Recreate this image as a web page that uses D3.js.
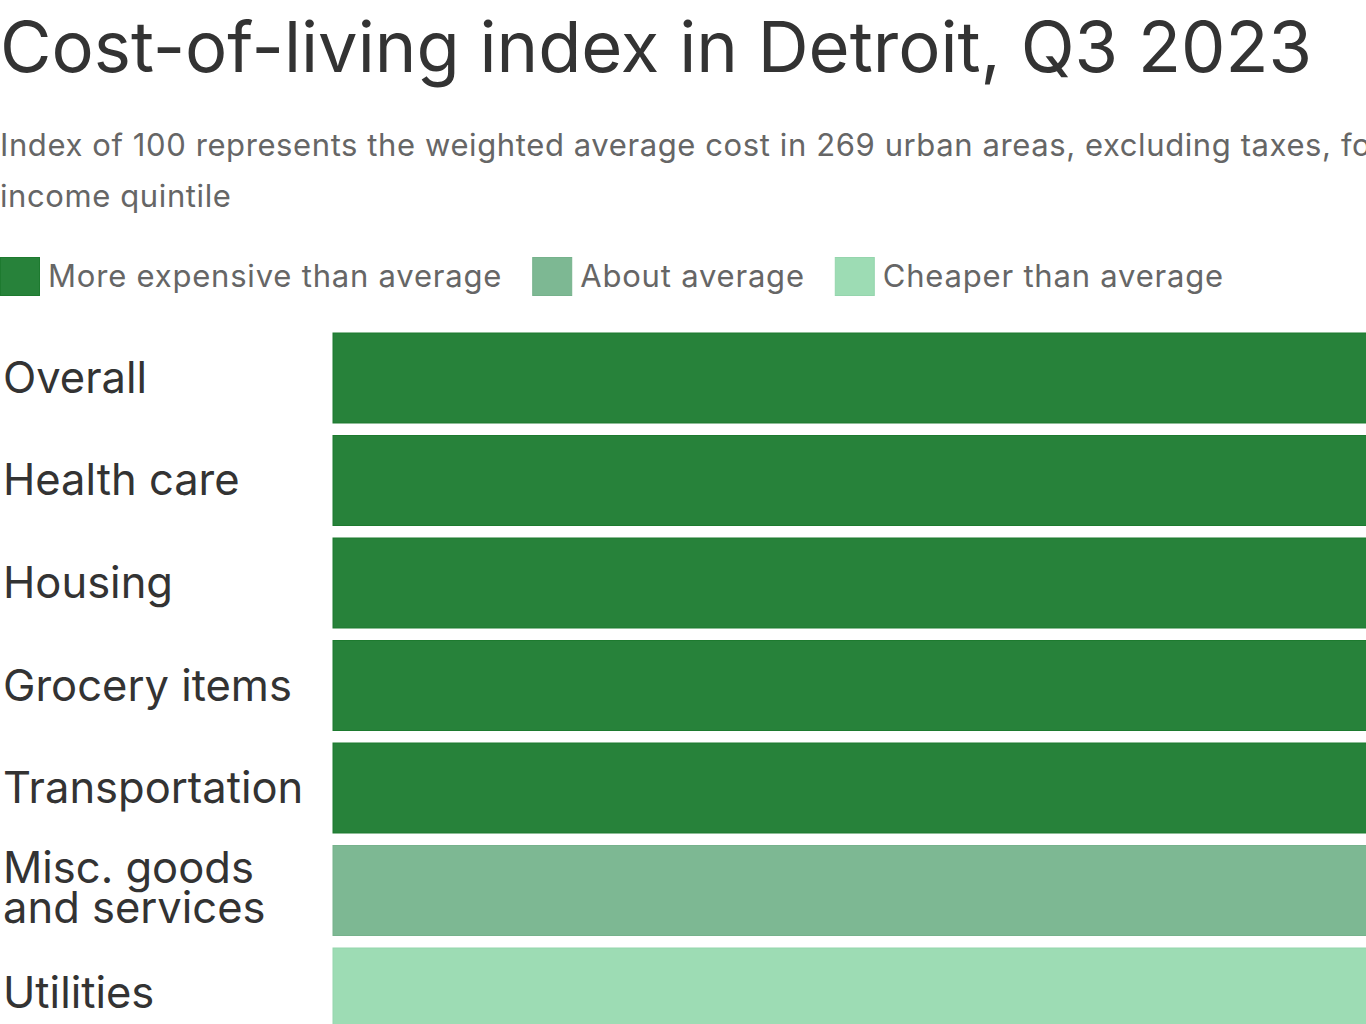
<!DOCTYPE html>
<html><head><meta charset="utf-8">
<script src="https://cdn.jsdelivr.net/npm/d3@7"></script>
<style>
html,body{margin:0;padding:0;background:#fff;overflow:hidden;}
svg{display:block;}
text{font-family:Inter,"Noto Sans",sans-serif;}
</style></head>
<body>
<script>
const categories = ["Overall","Health care","Housing","Grocery items","Transportation","Misc. goods\nand services","Utilities"];
const values = [104.6,121.3,108.9,106.2,104.9,99.8,94.1];
const groups = ["More expensive than average","More expensive than average","More expensive than average","More expensive than average","More expensive than average","About average","Cheaper than average"];
const legendLabels = ["More expensive than average","About average","Cheaper than average"];
const legendColors = ["#27823a","#7db893","#9ddcb4"];
const strokeColors = ["#1d7a2f","#76b28c","#95d5ad"];
const title = "Cost-of-living index in Detroit, Q3 2023";
const subtitleLines = ["Index of 100 represents the weighted average cost in 269 urban areas, excluding taxes, for professional and managerial households in the top","income quintile"];

const W = 1366, H = 1024;
const svg = d3.select("body").append("svg").attr("width", W).attr("height", H);

svg.append("text").attr("x", 0).attr("y", 72).attr("fill", "#333")
  .style("font-size", "70.5px").style("font-weight", 400).text(title);

svg.selectAll("text.sub").data(subtitleLines).join("text").attr("class","sub")
  .attr("x", 0).attr("y", (d,i) => 156 + i*51).attr("fill", "#666")
  .style("font-size", "31px").style("letter-spacing", "0.6px").text(d => d);

const color = d3.scaleOrdinal().domain(legendLabels).range(legendColors);
const stroke = d3.scaleOrdinal().domain(legendLabels).range(strokeColors);

// legend
const lg = svg.append("g");
let lx = 0;
legendLabels.forEach((l, i) => {
  const g = lg.append("g").attr("transform", `translate(${lx},0)`);
  g.append("rect").attr("x", 0.5).attr("y", 257.5).attr("width", 39).attr("height", 38)
    .attr("fill", color(l)).attr("stroke", stroke(l));
  const t = g.append("text").attr("x", 48).attr("y", 287).attr("fill", "#666")
    .style("font-size", "31px").style("letter-spacing", "0.8px").text(l);
  lx += 48 + t.node().getComputedTextLength() + 30;
});

const y = d3.scaleBand().domain(categories).range([333, 1038]).paddingInner(0.122).paddingOuter(0);
const x = d3.scaleLinear().domain([0, 125]).range([333, 2300]);

svg.selectAll("rect.bar").data(categories).join("rect").attr("class","bar")
  .attr("x", x(0)).attr("y", d => y(d))
  .attr("width", (d,i) => x(values[i]) - x(0))
  .attr("height", y.bandwidth())
  .attr("fill", (d,i) => color(groups[i]))
  .attr("stroke", (d,i) => stroke(groups[i])).attr("stroke-width", 1);

const labels = svg.selectAll("text.lab").data(categories).join("text").attr("class","lab")
  .attr("fill", "#333").style("font-size", "43.5px");
labels.each(function(d){
  const lines = d.split("\n");
  const cy = y(d) + y.bandwidth()/2;
  const t = d3.select(this);
  lines.forEach((ln, j) => {
    t.append("tspan").attr("x", 3)
      .attr("y", cy + 15 + (j - (lines.length-1)/2) * 40 - (lines.length > 1 ? 3 : 0)).text(ln);
  });
});
</script>
</body></html>
